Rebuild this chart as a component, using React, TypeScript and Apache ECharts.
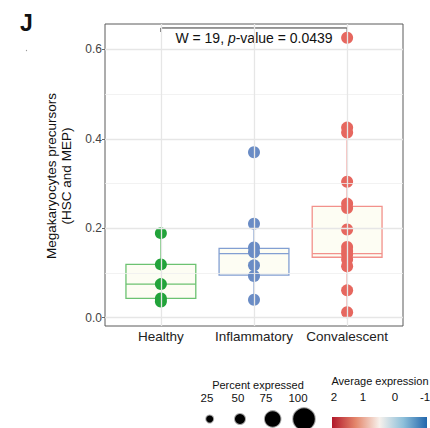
import React, { useEffect, useRef } from "react";
import * as echarts from "echarts";

const categories = ["Healthy", "Inflammatory", "Convalescent"];
const healthyValues = [0.189, 0.119, 0.075, 0.043, 0.036];
const inflammatoryValues = [0.37, 0.21, 0.157, 0.146, 0.117, 0.093, 0.04];
const convalescentValues = [0.626, 0.425, 0.414, 0.304, 0.255, 0.245, 0.197, 0.158, 0.149, 0.141, 0.13, 0.115, 0.061, 0.012];
// [low whisker, Q1, median, Q3, high whisker]
const boxStats = [
  [0.036, 0.043, 0.075, 0.119, 0.189],
  [0.04, 0.095, 0.143, 0.155, 0.21],
  [0.012, 0.135, 0.143, 0.249, 0.425],
];
const yTicks = [0, 0.2, 0.4, 0.6];
const yMinor = [0.1, 0.3, 0.5];
const sizeLegendValues = ["25", "50", "75", "100"];
const colorLegendValues = ["2", "1", "0", "-1"];
const annotationText = "W = 19, ";

const pointColors = ["#22A33A", "#6A8CC5", "#E6675F"];
const boxColors = ["#6CC271", "#829FD2", "#F2918B"];
const FONT = "'Liberation Sans', Arial, Helvetica, sans-serif";

export default function App() {
  const ref = useRef<HTMLDivElement>(null);
  useEffect(() => {
    const chart = echarts.init(ref.current!, null, { renderer: "svg" });
    const groups = [healthyValues, inflammatoryValues, convalescentValues];
    const option: any = {
      animation: false,
      textStyle: { fontFamily: FONT },
      grid: {
        left: 105,
        top: 24,
        width: 298,
        height: 302,
        show: true,
        borderColor: "#5a5a5a",
        borderWidth: 1,
        backgroundColor: "transparent",
      },
      xAxis: {
        type: "value",
        min: 0.4,
        max: 3.6,
        splitLine: { show: false },
        axisLine: { show: false },
        axisTick: { show: true, customValues: [1, 2, 3], length: 3, lineStyle: { color: "#666" } },
        axisLabel: {
          customValues: [1, 2, 3],
          formatter: (v: number) => categories[Math.round(v) - 1] ?? "",
          color: "#222",
          fontSize: 13.5,
          margin: 3,
          fontFamily: FONT,
        },
      },
      yAxis: {
        type: "value",
        min: -0.0187,
        max: 0.6567,
        splitLine: { show: false },
        axisLine: { show: false },
        axisTick: { show: true, customValues: yTicks, length: 3, lineStyle: { color: "#666" } },
        axisLabel: {
          customValues: yTicks,
          formatter: (v: number) => v.toFixed(1),
          color: "#444",
          fontSize: 12,
          margin: 3,
          fontFamily: FONT,
        },
      },
      series: [
        {
          type: "line",
          data: [],
          z: 0,
          silent: true,
          markLine: {
            silent: true,
            symbol: ["none", "none"],
            label: { show: false },
            animation: false,
            data: [
              ...yTicks.map((v) => ({ yAxis: v, lineStyle: { color: "#e6e6e6", width: 1.3, type: "solid" } })),
              ...yMinor.map((v) => ({ yAxis: v, lineStyle: { color: "#efefef", width: 0.8, type: "solid" } })),
              ...[1, 2, 3].map((v) => ({ xAxis: v, lineStyle: { color: "#e6e6e6", width: 1.3, type: "solid" } })),
            ],
          },
        },
        {
          type: "custom",
          z: 2,
          silent: true,
          data: boxStats.map((s, i) => [i + 1, ...s]),
          renderItem: (params: any, api: any) => {
            const x = api.value(0);
            const lo = api.coord([x, api.value(1)]);
            const q1 = api.coord([x, api.value(2)]);
            const md = api.coord([x, api.value(3)]);
            const q3 = api.coord([x, api.value(4)]);
            const hi = api.coord([x, api.value(5)]);
            const hw = api.size([0.75, 0])[0] / 2;
            const c = boxColors[params.dataIndex];
            const ls = { stroke: c, lineWidth: 1.3 };
            return {
              type: "group",
              children: [
                { type: "line", shape: { x1: q3[0], y1: q3[1], x2: hi[0], y2: hi[1] }, style: ls },
                { type: "line", shape: { x1: q1[0], y1: q1[1], x2: lo[0], y2: lo[1] }, style: ls },
                {
                  type: "rect",
                  shape: { x: q3[0] - hw, y: q3[1], width: hw * 2, height: q1[1] - q3[1] },
                  style: { fill: "#FDFDF3", stroke: c, lineWidth: 1.3 },
                },
                { type: "line", shape: { x1: md[0] - hw, y1: md[1], x2: md[0] + hw, y2: md[1] }, style: ls },
              ],
            };
          },
        },
        ...groups.map((vals, i) => ({
          type: "scatter",
          z: 3,
          symbolSize: 12,
          itemStyle: { color: pointColors[i], opacity: 1 },
          data: vals.map((v) => [i + 1, v]),
        })),
      ],
    };
    chart.setOption(option);

    const pL = chart.convertToPixel({ gridIndex: 0 }, [1, 0.6478]) as number[];
    const pR = chart.convertToPixel({ gridIndex: 0 }, [3, 0.6478]) as number[];
    const pDrop = chart.convertToPixel({ gridIndex: 0 }, [1, 0.6388]) as number[];
    const pText = chart.convertToPixel({ gridIndex: 0 }, [2, 0.6254]) as number[];

    const sizeX = [209.7, 240, 272.7, 304];
    const sizeLabelX = [207, 238, 266, 298];
    const sizeR = [3.5, 5, 7.8, 10.8];
    const colorLabelX = [334, 363, 395, 425];

    chart.setOption({
      graphic: [
        { type: "text", left: 20, top: 11, style: { text: "J", font: `bold 23px ${FONT}`, fill: "#111" } },
        { type: "circle", shape: { cx: 26.5, cy: 50.5, r: 0.6 }, style: { fill: "#999" } },
        {
          type: "text",
          x: 59,
          y: 176,
          rotation: Math.PI / 2,
          style: {
            text: "Megakaryocytes precursors\n(HSC and MEP)",
            font: `13.5px ${FONT}`,
            fill: "#111",
            align: "center",
            verticalAlign: "middle",
            lineHeight: 14.5,
          },
        },
        {
          type: "polyline",
          shape: { points: [[pL[0], pDrop[1]], [pL[0], pL[1]], [pR[0], pR[1]], [pR[0], pDrop[1]]] },
          style: { stroke: "#333", lineWidth: 1, fill: "none" },
        },
        {
          type: "text",
          x: pText[0],
          y: pText[1],
          style: {
            text: `{n|${annotationText}}{i|p}{n|-value = 0.0439}`,
            align: "center",
            verticalAlign: "middle",
            rich: {
              n: { font: `14px ${FONT}`, fill: "#111" },
              i: { font: `italic 14px ${FONT}`, fill: "#111" },
            },
          },
        },
        {
          type: "text",
          x: 258,
          y: 385,
          style: { text: "Percent expressed", font: `11px ${FONT}`, fill: "#111", align: "center", verticalAlign: "middle" },
        },
        ...sizeLegendValues.map((t, i) => ({
          type: "text",
          x: sizeLabelX[i],
          y: 398,
          style: { text: t, font: `11.5px ${FONT}`, fill: "#111", align: "center", verticalAlign: "middle" },
        })),
        ...sizeR.map((r, i) => ({
          type: "circle",
          shape: { cx: sizeX[i], cy: 419, r },
          style: { fill: "#000", stroke: "rgba(0,0,0,0.35)", lineWidth: 2 },
        })),
        {
          type: "text",
          x: 380,
          y: 381,
          style: { text: "Average expression", font: `11px ${FONT}`, fill: "#111", align: "center", verticalAlign: "middle" },
        },
        ...colorLegendValues.map((t, i) => ({
          type: "text",
          x: colorLabelX[i],
          y: 397,
          style: { text: t, font: `11.5px ${FONT}`, fill: "#111", align: "center", verticalAlign: "middle" },
        })),
        {
          type: "rect",
          shape: { x: 332, y: 417, width: 95, height: 12 },
          style: {
            fill: new echarts.graphic.LinearGradient(0, 0, 1, 0, [
              { offset: 0, color: "#B2182B" },
              { offset: 0.25, color: "#E4876C" },
              { offset: 0.5, color: "#F7F1EC" },
              { offset: 0.75, color: "#8EC0DA" },
              { offset: 1, color: "#2166AC" },
            ]),
          },
        },
      ],
    });
    return () => chart.dispose();
  }, []);
  return <div ref={ref} style={{ position: "fixed", left: 0, top: 0, width: 430, height: 428, background: "#fff" }} />;
}
